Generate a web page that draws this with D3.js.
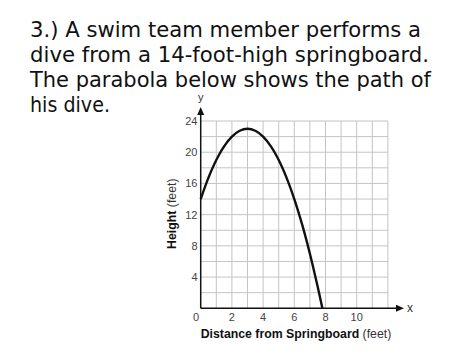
<!DOCTYPE html>
<html><head><meta charset="utf-8">
<script src="https://cdn.jsdelivr.net/npm/d3@7"></script>
<style>body{margin:0;background:#fff}svg{display:block}</style>
</head><body>
<svg id="c" width="474" height="355"></svg>
<script>
const titleLines = ["3.) A swim team member performs a","dive from a 14-foot-high springboard.","The parabola below shows the path of","his dive."];
const titleWidths = [391,399,401,80];
const distance = [0,0.5,1,1.5,2,2.5,3,3.5,4,4.5,5,5.5,6,6.5,7,7.5,7.8];
const height   = [14,16.75,19,20.75,22,22.75,23,22.75,22,20.75,19,16.75,14,10.75,7,2.75,0];
const xTicks = [2,4,6,8,10];
const yTicks = [4,8,12,16,20,24];

const svg = d3.select("#c");
const x = d3.scaleLinear().domain([0,12]).range([200.7,387.9]);
const y = d3.scaleLinear().domain([0,24]).range([308.3,121]);

// title
svg.append("g").selectAll("text").data(titleLines).join("text")
  .attr("x",30).attr("y",(d,i)=>36.7+i*25)
  .attr("font-family","DejaVu Sans").attr("font-size",21.3).attr("fill","#111")
  .attr("textLength",(d,i)=>titleWidths[i]).attr("lengthAdjust","spacingAndGlyphs")
  .text(d=>d);

// grid
const g = svg.append("g");
g.selectAll("line.v").data(d3.range(1,13)).join("line")
  .attr("x1",d=>x(d)).attr("x2",d=>x(d)).attr("y1",y(0)).attr("y2",y(24))
  .attr("stroke","#c4c4c4").attr("stroke-width",1);
g.selectAll("line.h").data(d3.range(2,25,2)).join("line")
  .attr("y1",d=>y(d)).attr("y2",d=>y(d)).attr("x1",x(0)).attr("x2",x(12))
  .attr("stroke","#c4c4c4").attr("stroke-width",1);

// axes
svg.append("line").attr("x1",x(0)).attr("x2",398).attr("y1",y(0)).attr("y2",y(0)).attr("stroke","#111").attr("stroke-width",1.5);
svg.append("line").attr("x1",x(0)).attr("x2",x(0)).attr("y1",y(0)).attr("y2",113).attr("stroke","#111").attr("stroke-width",1.5);
svg.append("path").attr("d",`M404,${y(0)} L396,${y(0)-3.5} L396,${y(0)+3.5} Z`).attr("fill","#111");
svg.append("path").attr("d",`M${x(0)},107 L${x(0)-3.5},115 L${x(0)+3.5},115 Z`).attr("fill","#111");
svg.append("text").attr("x",x(0)).attr("y",101).attr("text-anchor","middle")
  .attr("font-family","Liberation Sans").attr("font-size",11).attr("fill","#333").text("y");
svg.append("text").attr("x",407).attr("y",y(0)+4).attr("text-anchor","start")
  .attr("font-family","Liberation Sans").attr("font-size",12).attr("fill","#333").text("x");

// tick labels
svg.append("g").selectAll("text").data(xTicks).join("text")
  .attr("x",d=>x(d)).attr("y",320.5).attr("text-anchor","middle")
  .attr("font-family","Liberation Sans").attr("font-size",11).attr("fill","#444").text(d=>d);
svg.append("g").selectAll("text").data(yTicks).join("text")
  .attr("x",197.5).attr("y",d=>y(d)+4).attr("text-anchor","end")
  .attr("font-family","Liberation Sans").attr("font-size",11).attr("fill","#444").text(d=>d);
svg.append("text").attr("x",196).attr("y",320.5).attr("text-anchor","middle")
  .attr("font-family","Liberation Sans").attr("font-size",11).attr("fill","#444").text("0");

// axis titles
const yt = svg.append("text").attr("transform","translate(175.5,213.7) rotate(-90)").attr("text-anchor","middle")
  .attr("font-family","Liberation Sans").attr("font-size",12.3).attr("fill","#111");
yt.append("tspan").attr("font-weight","bold").text("Height ");
yt.append("tspan").attr("fill","#333").text("(feet)");
const xt = svg.append("text").attr("x",296).attr("y",337.5).attr("text-anchor","middle")
  .attr("font-family","Liberation Sans").attr("font-size",12.3).attr("fill","#111");
xt.append("tspan").attr("font-weight","bold").text("Distance from Springboard ");
xt.append("tspan").attr("fill","#333").text("(feet)");

// curve
const pts = distance.map((d,i)=>[d,height[i]]);
svg.append("path").datum(pts)
  .attr("d",d3.line().x(d=>x(d[0])).y(d=>y(d[1])).curve(d3.curveCatmullRom.alpha(0.5)))
  .attr("fill","none").attr("stroke","#111").attr("stroke-width",2.4);
</script>
</body></html>
